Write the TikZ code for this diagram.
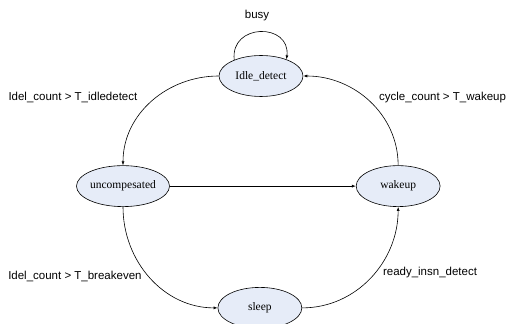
\documentclass[tikz,border=0pt]{standalone}
\usepackage{fontspec}
\setmainfont{Liberation Serif}
\setsansfont{Liberation Sans}
\usetikzlibrary{arrows.meta, positioning, shapes.geometric}
\definecolor{stfill}{RGB}{230,236,248}

\begin{document}
\begin{tikzpicture}[
  state/.style={draw, ellipse, fill=stfill, line width=0.6pt, minimum width=2.95cm, minimum height=1.44cm, inner sep=0pt, font=\fontsize{11.5}{13}\selectfont},
  trans/.style={-{Latex[length=4pt,width=3pt]}, line width=0.6pt},
  cond/.style={font=\sffamily\fontsize{11.5}{13}\selectfont, inner sep=0pt}
]
\useasboundingbox (-9.173,2.671) rectangle (8.751,-8.716);

% States
\node[state] (idle) at (0,0) {Idle\_detect};
\node[state, on grid, below left=3.87cm and 4.85cm of idle] (uncomp) {uncompesated};
\node[state, on grid, below right=3.87cm and 4.82cm of idle] (wakeup) {wakeup};
\node[state, on grid, below=8.15cm of idle, xshift=-0.04cm] (sleep) {sleep};

% Conditions
\node[cond] (busy) at (-0.14,2.14) {busy};
\node[cond] (cidle) at (-6.61,-0.77) {Idel\_count > T\_idledetect};
\node[cond] (cwake) at (6.38,-0.74) {cycle\_count > T\_wakeup};
\node[cond] (cbreak) at (-6.54,-7.06) {Idel\_count > T\_breakeven};
\node[cond] (cready) at (5.94,-6.92) {ready\_insn\_detect};

% Transitions
\draw[trans] (idle.149) .. controls +(-0.15,1.3) and +(0.15,1.3) .. (idle.33);
\draw[trans] (idle.west) to[out=180, in=90] (uncomp.north);
\draw[trans] (uncomp.east) -- (wakeup.west);
\draw[trans] (uncomp.south) to[out=-90, in=180] (sleep.west);
\draw[trans] (sleep.east) to[out=0, in=-90] (wakeup.south);
\draw[trans] (wakeup.north) to[out=90, in=0] (idle.east);

\end{tikzpicture}
\end{document}
